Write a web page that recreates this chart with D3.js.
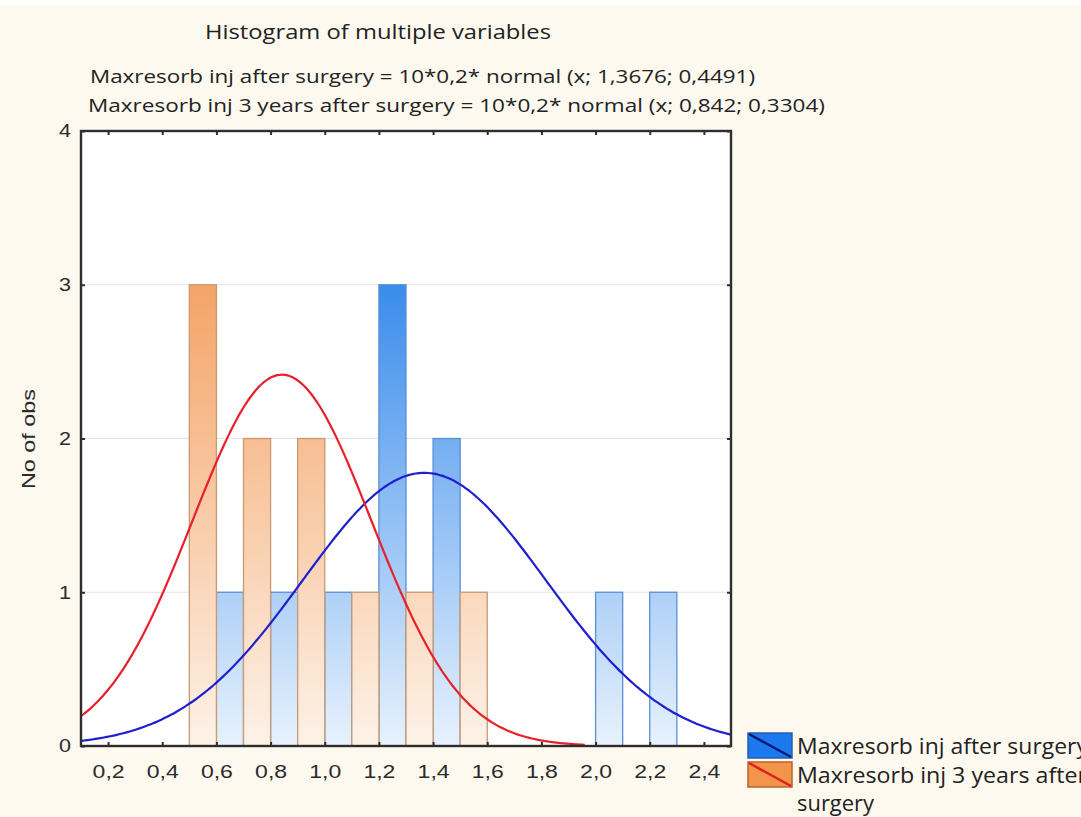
<!DOCTYPE html>
<html>
<head>
<meta charset="utf-8">
<script src="https://cdn.jsdelivr.net/npm/d3@7"></script>
<style>
  html, body { margin: 0; padding: 0; background: #fdf9ef; }
  svg { display: block; }
</style>
</head>
<body>
<svg id="chart" width="1081" height="817"></svg>
<script>
// bins are 0,2 wide; first half of each bin = 3 years after, second half = after surgery
const binStarts = [0.5, 0.7, 0.9, 1.1, 1.3, 1.5, 1.7, 1.9, 2.1]
const countsAfter = [1, 1, 1, 3, 2, 0, 0, 1, 1]
const counts3Years = [3, 2, 2, 1, 1, 1, 0, 0, 0]
const seriesNames = ['Maxresorb inj after surgery', 'Maxresorb inj 3 years after surgery']
const fitMeans = [1.3676, 0.842]
const fitSds = [0.4491, 0.3304]
const fitRanges = [[0.1, 2.5], [0.1, 1.96]]
const xTicks = [0.2, 0.4, 0.6, 0.8, 1.0, 1.2, 1.4, 1.6, 1.8, 2.0, 2.2, 2.4]
const yTicks = [0, 1, 2, 3, 4]
const titleLines = [
  'Histogram of multiple variables',
  'Maxresorb inj after surgery = 10*0,2* normal (x; 1,3676; 0,4491)',
  'Maxresorb inj 3 years after surgery = 10*0,2* normal (x; 0,842; 0,3304)'
]

const svg = d3.select('#chart')
const pL = 81, pR = 731, pT = 131, pB = 746
const fmt = d => d3.format('.1f')(d).replace('.', ',')

const x = d3.scaleLinear().domain([0.1, 2.5]).range([pL, pR])
const y = d3.scaleLinear().domain([0, 4]).range([pB, pT])

// background
svg.append('rect').attr('width', 1081).attr('height', 817).attr('fill', '#fdf9ef')
svg.append('rect').attr('width', 1081).attr('height', 5).attr('fill', '#ffffff')
svg.append('rect').attr('x', pL).attr('y', pT).attr('width', pR - pL).attr('height', pB - pT).attr('fill', '#ffffff')

const defs = svg.append('defs')
const grad = (id, c1, c2) => {
  const g = defs.append('linearGradient').attr('id', id)
    .attr('gradientUnits', 'userSpaceOnUse')
    .attr('x1', 0).attr('x2', 0).attr('y1', y(3)).attr('y2', pB)
  g.append('stop').attr('offset', 0).attr('stop-color', c1)
  g.append('stop').attr('offset', 1).attr('stop-color', c2)
}
grad('gBlue', '#3a8cec', '#e8f2fd')
grad('gOrange', '#f4a467', '#fdf2e8')

// grid
svg.append('g').selectAll('line').data(yTicks.filter(d => d > 0 && d < 4)).join('line')
  .attr('x1', pL).attr('x2', pR).attr('y1', d => y(d)).attr('y2', d => y(d))
  .attr('stroke', '#e2e2e2').attr('stroke-width', 1.2)

// bars
const bw = 0.1
const drawBars = (counts, offset, fill, stroke) => {
  svg.append('g').selectAll('rect')
    .data(binStarts.map((b, i) => ({ b, c: counts[i] })).filter(d => d.c > 0))
    .join('rect')
    .attr('x', d => x(d.b + offset))
    .attr('width', d => x(d.b + offset + bw) - x(d.b + offset))
    .attr('y', d => y(d.c))
    .attr('height', d => y(0) - y(d.c))
    .attr('fill', fill).attr('stroke', stroke).attr('stroke-width', 1.3)
}
drawBars(countsAfter, bw, 'url(#gBlue)', '#5a8fd6')
drawBars(counts3Years, 0, 'url(#gOrange)', '#c89a72')

// fitted normal curves: 10 * 0,2 * normal(x; mean; sd)
const curveColors = ['#1f1fd0', '#e8202a']
const pdf = (v, m, s) => Math.exp(-0.5 * ((v - m) / s) ** 2) / (s * Math.sqrt(2 * Math.PI))
const line = d3.line().x(d => x(d[0])).y(d => y(d[1])).curve(d3.curveMonotoneX)
fitMeans.forEach((m, i) => {
  const [a, b] = fitRanges[i]
  const pts = d3.range(a, b + 1e-9, (b - a) / 200).map(v => [v, 10 * 0.2 * pdf(v, m, fitSds[i])])
  svg.append('path').datum(pts).attr('d', line)
    .attr('fill', 'none').attr('stroke', curveColors[i]).attr('stroke-width', 2.2)
})

// frame
svg.append('rect').attr('x', pL).attr('y', pT).attr('width', pR - pL).attr('height', pB - pT)
  .attr('fill', 'none').attr('stroke', '#2e2e2e').attr('stroke-width', 2.4)

// axes
const af = 'Liberation Sans, Arial, sans-serif'
const xAxisB = d3.axisBottom(x).tickValues(xTicks).tickSize(-4).tickPadding(19).tickFormat(fmt)
const xAxisT = d3.axisTop(x).tickValues(xTicks).tickSize(-4).tickFormat('')
const yAxisL = d3.axisLeft(y).tickValues(yTicks).tickSize(-4).tickPadding(10).tickFormat(d3.format('d'))
const yAxisR = d3.axisRight(y).tickValues(yTicks).tickSize(-4).tickFormat('')
const styleAxis = g => {
  g.select('.domain').remove()
  g.selectAll('line').attr('stroke', '#2e2e2e').attr('stroke-width', 2)
  g.selectAll('text').attr('fill', '#2a2a2a').attr('font-family', af).attr('font-size', 18.5)
}
svg.append('g').attr('transform', `translate(0,${pB})`).call(xAxisB).call(styleAxis)
  .selectAll('text').attr('textLength', 32).attr('lengthAdjust', 'spacingAndGlyphs')
svg.append('g').attr('transform', `translate(0,${pT})`).call(xAxisT).call(styleAxis)
svg.append('g').attr('transform', `translate(${pL},0)`).call(yAxisL).call(styleAxis)
  .selectAll('text').attr('textLength', 12).attr('lengthAdjust', 'spacingAndGlyphs')
svg.append('g').attr('transform', `translate(${pR},0)`).call(yAxisR).call(styleAxis)

// y label
svg.append('text').attr('transform', 'translate(35,439) rotate(-90)')
  .attr('text-anchor', 'middle').attr('font-family', af)
  .attr('textLength', 100).attr('lengthAdjust', 'spacingAndGlyphs')
  .attr('font-size', 18).attr('fill', '#2a2a2a').text('No of obs')

// titles (fit to the widths seen in the picture)
const tf = 'Open Sans, DejaVu Sans, sans-serif'
const addText = (txt, xx, yy, size, len) => svg.append('text')
  .attr('x', xx).attr('y', yy).attr('font-family', tf).attr('font-size', size).attr('fill', '#222')
  .attr('textLength', len).attr('lengthAdjust', 'spacingAndGlyphs').text(txt)
addText(titleLines[0], 205, 39, 20, 346)
addText(titleLines[1], 90, 83, 19, 665)
addText(titleLines[2], 88, 112, 19, 737)

// legend
const swFill = ['#1b78ee', '#f2954a']
const swStroke = ['#2a5fa8', '#b8642c']
const swLine = ['#0a1a70', '#e0201c']
const legendY = [733, 762]
seriesNames.forEach((n, i) => {
  const g = svg.append('g').attr('transform', `translate(748,${legendY[i]})`)
  g.append('rect').attr('width', 44).attr('height', 25).attr('fill', swFill[i]).attr('stroke', swStroke[i]).attr('stroke-width', 1.5)
  g.append('line').attr('x1', 1).attr('y1', 1).attr('x2', 43).attr('y2', 24).attr('stroke', swLine[i]).attr('stroke-width', 2.5)
})
addText(seriesNames[0], 797, 754, 21, 291)
addText('Maxresorb inj 3 years after', 797, 783, 21, 290)
addText('surgery', 797, 811, 21, 77)
</script>
</body>
</html>
